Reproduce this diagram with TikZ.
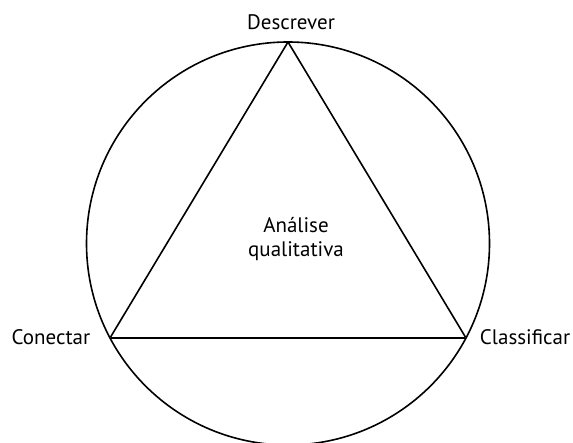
\documentclass[tikz,border=0pt]{standalone}
\usepackage{fontspec}
\setmainfont{PT Sans}
\usetikzlibrary{positioning}
\tikzstyle{vertex}=[inner sep=0pt,minimum size=0pt]
\tikzstyle{label}=[inner sep=0pt,font=\fontsize{21}{24}\selectfont]

\begin{document}
\begin{tikzpicture}[x=1pt,y=-1pt,line width=1.6pt]
\useasboundingbox (0,0) rectangle (573,443);
\coordinate (c) at (288,243.5);
\draw (288, 42) node [vertex] (n1) {};
\draw (110, 338) node [vertex] (n2) {};
\draw (466, 338) node [vertex] (n3) {};
\draw (c) circle (201.5);
\draw (n1) -- (n3) -- (n2) -- (n1);
\draw (291, 30) node [label, anchor=base] (t1) {Descrever};
\draw (91, 345) node [label, anchor=base east] (t2) {Conectar};
\draw (571, 345) node [label, anchor=base east] (t3) {Classificar};
\draw (296, 239) node [label, align=center] (t4) {Análise\\qualitativa};
\end{tikzpicture}
\end{document}
